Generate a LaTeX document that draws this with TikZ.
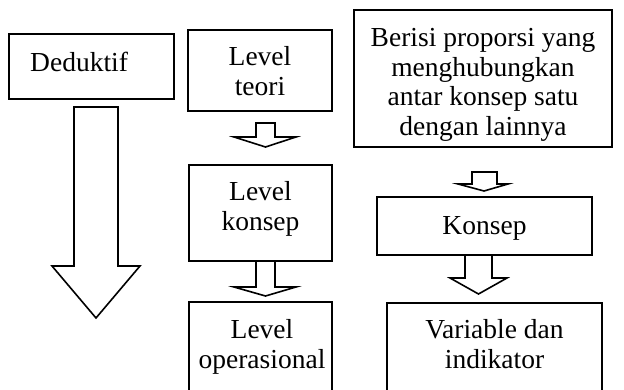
\documentclass[tikz,border=0pt]{standalone}
\usepackage{fontspec}
\setmainfont{Liberation Serif}
\begin{document}
\begin{tikzpicture}[x=1pt,y=-1pt,
  box/.style={draw,line width=1.6pt,rectangle,inner sep=0pt},
  txt/.style={inner sep=0pt,align=center,font=\fontsize{27.5}{29.5}\selectfont},
  blockarrow/.style={draw,line width=1.6pt,line join=miter,fill=white}]
\clip (0,0) rectangle (624,390);
\fill[white] (0,0) rectangle (624,390);
% boxes
\node[box,minimum width=165pt,minimum height=65pt] (ded) at (91.5,66.5) {};
\node[box,minimum width=144pt,minimum height=81pt] (teori) at (260,70.5) {};
\node[box,minimum width=143pt,minimum height=96pt] (konsep) at (260.5,213) {};
\node[box,minimum width=143pt,minimum height=98pt] (oper) at (260.5,351) {};
\node[box,minimum width=258pt,minimum height=137pt] (prop) at (483,78.5) {};
\node[box,minimum width=215pt,minimum height=58pt] (kon) at (484.5,226) {};
\node[box,minimum width=215pt,minimum height=97pt] (var) at (494.5,351.5) {};
% texts
\node[txt,anchor=base west] (tded) at (30,72) {Deduktif};
\node[txt,anchor=north] (tteori) at (260,46.5) {Level\\teori};
\node[txt,anchor=north] (tkonsep) at (260.5,181.5) {Level\\konsep};
\node[txt,anchor=north] (toper) at (262,319.5) {Level\\operasional};
\node[txt,anchor=north] (tprop) at (483,28.5) {Berisi proporsi yang\\menghubungkan\\antar konsep satu\\dengan lainnya};
\node[txt,anchor=base] (tkon) at (484.5,235) {Konsep};
\node[txt,anchor=north] (tvar) at (494.5,319.5) {Variable dan\\indikator};
% block arrows
\draw[blockarrow] (74,107) -- (118,107) -- (118,266) -- (140,266) -- (96,318) -- (52,266) -- (74,266) -- cycle;
\draw[blockarrow] (256,123) -- (275,123) -- (275,137) -- (296,137) -- (265.5,147) -- (234,137) -- (256,137) -- cycle;
\draw[blockarrow] (256,261) -- (275,261) -- (275,287) -- (296,287) -- (265.5,296) -- (234,287) -- (256,287) -- cycle;
\draw[blockarrow] (472,172) -- (497,172) -- (497,184) -- (508,184) -- (484,191) -- (458,184) -- (472,184) -- cycle;
\draw[blockarrow] (465,255) -- (492,255) -- (492,278) -- (507,278) -- (478.5,294) -- (450,278) -- (465,278) -- cycle;
\end{tikzpicture}
\end{document}
